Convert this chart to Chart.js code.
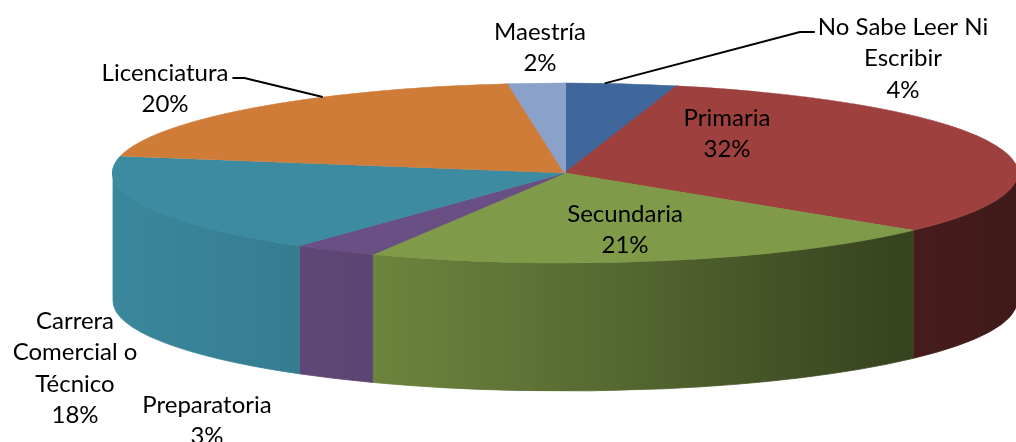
<!DOCTYPE html>
<html lang="es">
<head>
<meta charset="UTF-8">
<title>Nivel de estudios</title>
<style>
  html, body { margin: 0; padding: 0; background: #fff; }
  #wrap { width: 1016px; height: 442px; }
</style>
</head>
<body>
<div id="wrap"><canvas id="myChart"></canvas></div>

<script src="https://cdn.jsdelivr.net/npm/chart.js"></script>
<script>
// data (percent)
const labels = ['No Sabe Leer Ni Escribir', 'Primaria', 'Secundaria', 'Preparatoria',
                'Carrera Comercial o Técnico', 'Licenciatura', 'Maestría'];
const values = [4, 32, 21, 3, 18, 20, 2];
const colors = ['#3F679C', '#9E413E', '#7F9A48', '#6A4F84', '#3C8BA1', '#D07C39', '#8AA1C9'];

// the way excel wrapped the names
const labelLines = [['No Sabe Leer Ni', 'Escribir'], ['Primaria'], ['Secundaria'], ['Preparatoria'],
                    ['Carrera', 'Comercial o', 'Técnico'], ['Licenciatura'], ['Maestría']];

// where the text blocks sit (center x, middle of first line)
// leader: side of the text the line leaves from, at: how far along the slice it lands
const labelSpots = [
  { x: 903, y: 27, leader: 'left', at: 0.35 },
  { x: 727, y: 118 },
  { x: 625, y: 214 },
  { x: 207, y: 405 },
  { x: 75,  y: 321 },
  { x: 165, y: 73, leader: 'right', at: 0.65 },
  { x: 540, y: 32 }
];

// tilted disc
const tilt = { cx: 565, cy: 173, rx: 452, ry: 90, depth: 128 };
// side wall gets darker toward the right
const wallShade = [[0, 0.97], [0.25, 0.88], [0.55, 0.68], [0.85, 0.45], [1, 0.4]];

const font = '24px Lato, "Open Sans", sans-serif';
const lineGap = 31.5;

function shade(hex, f) {
  const n = parseInt(hex.slice(1), 16);
  const r = Math.round(((n >> 16) & 255) * f);
  const g = Math.round(((n >> 8) & 255) * f);
  const b = Math.round((n & 255) * f);
  return 'rgb(' + r + ',' + g + ',' + b + ')';
}

function edgePoint(arc, t) {
  const ang = arc.startAngle + (arc.endAngle - arc.startAngle) * t;
  return {
    x: tilt.cx + tilt.rx * Math.cos(ang),
    y: tilt.cy + tilt.ry * Math.sin(ang)
  };
}

const pie3d = {
  id: 'pie3d',
  beforeDatasetsDraw(chart) {
    const ctx = chart.ctx;
    const arcs = chart.getDatasetMeta(0).data;
    const { cx, cy, rx, ry, depth } = tilt;

    // front walls (only the half facing us)
    arcs.forEach((arc, i) => {
      const a = Math.max(arc.startAngle, 0);
      const b = Math.min(arc.endAngle, Math.PI);
      if (b <= a) return;
      const g = ctx.createLinearGradient(cx - rx, 0, cx + rx, 0);
      wallShade.forEach(s => g.addColorStop(s[0], shade(colors[i], s[1])));
      ctx.beginPath();
      ctx.ellipse(cx, cy, rx, ry, 0, a, b);
      ctx.ellipse(cx, cy + depth, rx, ry, 0, b, a, true);
      ctx.closePath();
      ctx.fillStyle = g;
      ctx.strokeStyle = g;
      ctx.lineWidth = 0.8;
      ctx.fill();
      ctx.stroke();
    });

    // squash the round pie into the top ellipse
    const { x, y, outerRadius } = arcs[0];
    ctx.save();
    ctx.translate(cx, cy);
    ctx.scale(rx / outerRadius, ry / outerRadius);
    ctx.translate(-x, -y);
  },
  afterDatasetsDraw(chart) {
    chart.ctx.restore();
  },
  afterDraw(chart) {
    const ctx = chart.ctx;
    const arcs = chart.getDatasetMeta(0).data;
    ctx.save();
    ctx.font = font;
    ctx.fillStyle = '#000';
    ctx.textAlign = 'center';
    ctx.textBaseline = 'middle';

    arcs.forEach((arc, i) => {
      const spot = labelSpots[i];
      const lines = labelLines[i].concat([values[i] + '%']);
      lines.forEach((t, j) => ctx.fillText(t, spot.x, spot.y + j * lineGap));

      if (spot.leader) {
        const w = ctx.measureText(lines[0]).width;
        const end = edgePoint(arc, spot.at);
        const sx = spot.leader === 'left' ? spot.x - w / 2 - 3 : spot.x + w / 2 + 4;
        const kx = spot.leader === 'left' ? sx - 15 : sx + 12;
        const sy = spot.y + 5;
        ctx.beginPath();
        ctx.moveTo(sx, sy);
        ctx.lineTo(kx, sy);
        ctx.lineTo(end.x, end.y);
        ctx.strokeStyle = '#000';
        ctx.lineWidth = 2;
        ctx.stroke();
      }
    });
    ctx.restore();
  }
};

new Chart(document.getElementById('myChart'), {
  type: 'pie',
  data: {
    labels: labels,
    datasets: [{
      data: values,
      backgroundColor: colors,
      borderColor: colors,
      borderWidth: 1,
      clip: false
    }]
  },
  options: {
    responsive: true,
    maintainAspectRatio: false,
    animation: false,
    events: [],
    plugins: {
      legend: { display: false },
      tooltip: { enabled: false }
    }
  },
  plugins: [pie3d]
});
</script>
</body>
</html>
